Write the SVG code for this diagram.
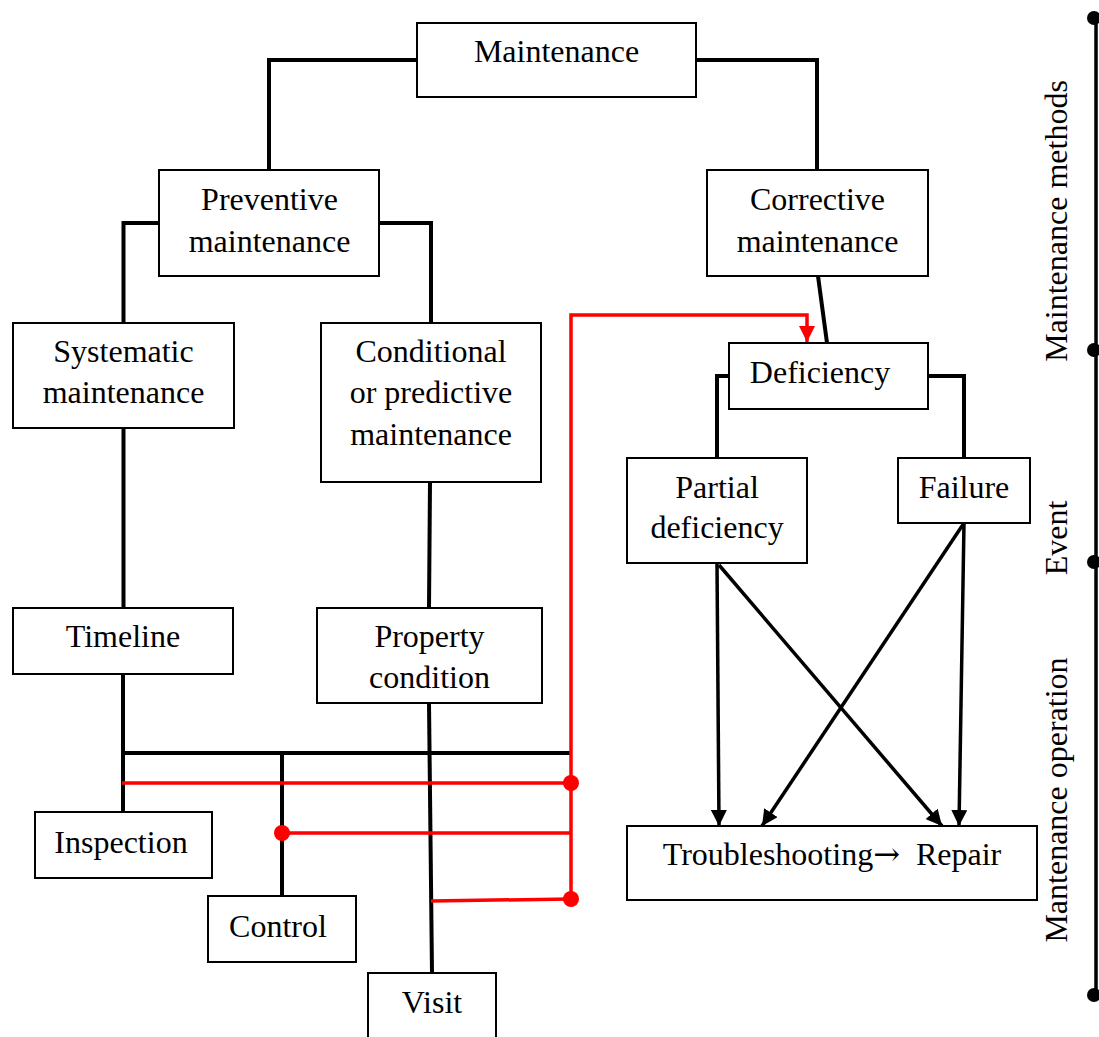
<svg xmlns="http://www.w3.org/2000/svg" width="1099" height="1037" viewBox="0 0 1099 1037">
  <style>
    .box { fill: #ffffff; stroke: #000000; stroke-width: 2; }
    .lbl { font-family: "Liberation Serif", "Times New Roman", serif; font-size: 32px; fill: #000000; text-anchor: middle; }
    .side { font-family: "Liberation Serif", "Times New Roman", serif; font-size: 32px; fill: #000000; text-anchor: middle; }
    .sym { font-family: "DejaVu Serif", serif; }
    .wire { fill: none; stroke: #000000; stroke-width: 4; stroke-linejoin: miter; }
    .flow { fill: none; stroke: #000000; stroke-width: 3.5; }
    .red { fill: none; stroke: #ff0000; stroke-width: 3.5; }
    .rdot { fill: #ff0000; }
    .kdot { fill: #000000; }
  </style>
  <defs>
    <marker id="arrowK" markerUnits="userSpaceOnUse" markerWidth="18" markerHeight="16" refX="16" refY="8" orient="auto">
      <path d="M0,0 L16,8 L0,16 z" fill="#000000"/>
    </marker>
    <marker id="arrowR" markerUnits="userSpaceOnUse" markerWidth="18" markerHeight="16" refX="16" refY="8" orient="auto">
      <path d="M0,0 L16,8 L0,16 z" fill="#ff0000"/>
    </marker>
  </defs>

  <rect width="1099" height="1037" fill="#ffffff"/>

  <!-- tree connectors -->
  <g id="connectors">
    <path class="wire" d="M417,60 H269 V170"/>
    <path class="wire" d="M696,60 H817 V170"/>
    <path class="wire" d="M159,223 H123.5 V323"/>
    <path class="wire" d="M379,223 H431 V323"/>
    <path class="wire" d="M123.5,428 V608"/>
    <path class="wire" d="M430,482 L429,608"/>
    <path class="wire" d="M818,276 L827,343"/>
    <path class="wire" d="M729,376 H717 V458"/>
    <path class="wire" d="M928,376 H964 V458"/>
    <path class="wire" d="M123,674 V812"/>
    <path class="wire" d="M123,753 H570"/>
    <path class="wire" d="M282,753 V896"/>
    <path class="wire" d="M429,703 L432,973"/>

    <path class="flow" d="M717,563 L719,826" marker-end="url(#arrowK)"/>
    <path class="flow" d="M719,565 L942,826" marker-end="url(#arrowK)"/>
    <path class="flow" d="M964,523 L959,826" marker-end="url(#arrowK)"/>
    <path class="flow" d="M964,523 L762,826" marker-end="url(#arrowK)"/>

    <path class="red" d="M571,899 V315 H807 V342" marker-end="url(#arrowR)"/>
    <path class="red" d="M122,783 H571"/>
    <path class="red" d="M282,833 H571"/>
    <path class="red" d="M431,901 L571,899"/>
    <circle class="rdot" cx="571" cy="783" r="8"/>
    <circle class="rdot" cx="282" cy="833" r="8"/>
    <circle class="rdot" cx="571" cy="899" r="8"/>
  </g>

  <!-- nodes -->
  <g id="maintenance">
    <rect class="box" x="417" y="23" width="279" height="74"/>
    <text class="lbl" x="556.5" y="62">Maintenance</text>
  </g>
  <g id="preventive">
    <rect class="box" x="159" y="170" width="220" height="106"/>
    <text class="lbl" x="269.5" y="210">Preventive</text>
    <text class="lbl" x="269.5" y="252">maintenance</text>
  </g>
  <g id="corrective">
    <rect class="box" x="707" y="170" width="221" height="106"/>
    <text class="lbl" x="817.5" y="210">Corrective</text>
    <text class="lbl" x="817.5" y="252">maintenance</text>
  </g>
  <g id="systematic">
    <rect class="box" x="13" y="323" width="221" height="105"/>
    <text class="lbl" x="123.5" y="362">Systematic</text>
    <text class="lbl" x="123.5" y="403">maintenance</text>
  </g>
  <g id="conditional">
    <rect class="box" x="321" y="323" width="220" height="159"/>
    <text class="lbl" x="431" y="362">Conditional</text>
    <text class="lbl" x="431" y="403">or predictive</text>
    <text class="lbl" x="431" y="445">maintenance</text>
  </g>
  <g id="deficiency">
    <rect class="box" x="729" y="343" width="199" height="66"/>
    <text class="lbl" x="820" y="383">Deficiency</text>
  </g>
  <g id="partial-deficiency">
    <rect class="box" x="627" y="458" width="180" height="105"/>
    <text class="lbl" x="717" y="498">Partial</text>
    <text class="lbl" x="717" y="538">deficiency</text>
  </g>
  <g id="failure">
    <rect class="box" x="898" y="458" width="132" height="65"/>
    <text class="lbl" x="964" y="498">Failure</text>
  </g>
  <g id="timeline">
    <rect class="box" x="13" y="608" width="220" height="66"/>
    <text class="lbl" x="123" y="647">Timeline</text>
  </g>
  <g id="property-condition">
    <rect class="box" x="317" y="608" width="225" height="95"/>
    <text class="lbl" x="429.5" y="647">Property</text>
    <text class="lbl" x="429.5" y="688">condition</text>
  </g>
  <g id="inspection">
    <rect class="box" x="35" y="812" width="177" height="66"/>
    <text class="lbl" x="121" y="853">Inspection</text>
  </g>
  <g id="control">
    <rect class="box" x="208" y="896" width="148" height="66"/>
    <text class="lbl" x="278" y="937">Control</text>
  </g>
  <g id="visit">
    <rect class="box" x="368" y="973" width="128" height="80"/>
    <text class="lbl" x="432" y="1013">Visit</text>
  </g>
  <g id="troubleshooting-repair">
    <rect class="box" x="627" y="826" width="410" height="74"/>
    <text class="lbl" x="832" y="865" xml:space="preserve">Troubleshooting<tspan class="sym">→</tspan>  Repair</text>
  </g>

  <!-- phase axis on the right -->
  <g id="phase-axis">
    <line x1="1096" y1="18" x2="1096" y2="995" stroke="#000000" stroke-width="3.5"/>
    <circle class="kdot" cx="1094" cy="18" r="7"/>
    <circle class="kdot" cx="1094" cy="350" r="7"/>
    <circle class="kdot" cx="1094" cy="562" r="7"/>
    <circle class="kdot" cx="1094" cy="995" r="7"/>
    <text class="side" transform="translate(1067,221) rotate(-90)">Maintenance methods</text>
    <text class="side" transform="translate(1067,538) rotate(-90)">Event</text>
    <text class="side" transform="translate(1067,800) rotate(-90)">Mantenance operation</text>
  </g>
</svg>
